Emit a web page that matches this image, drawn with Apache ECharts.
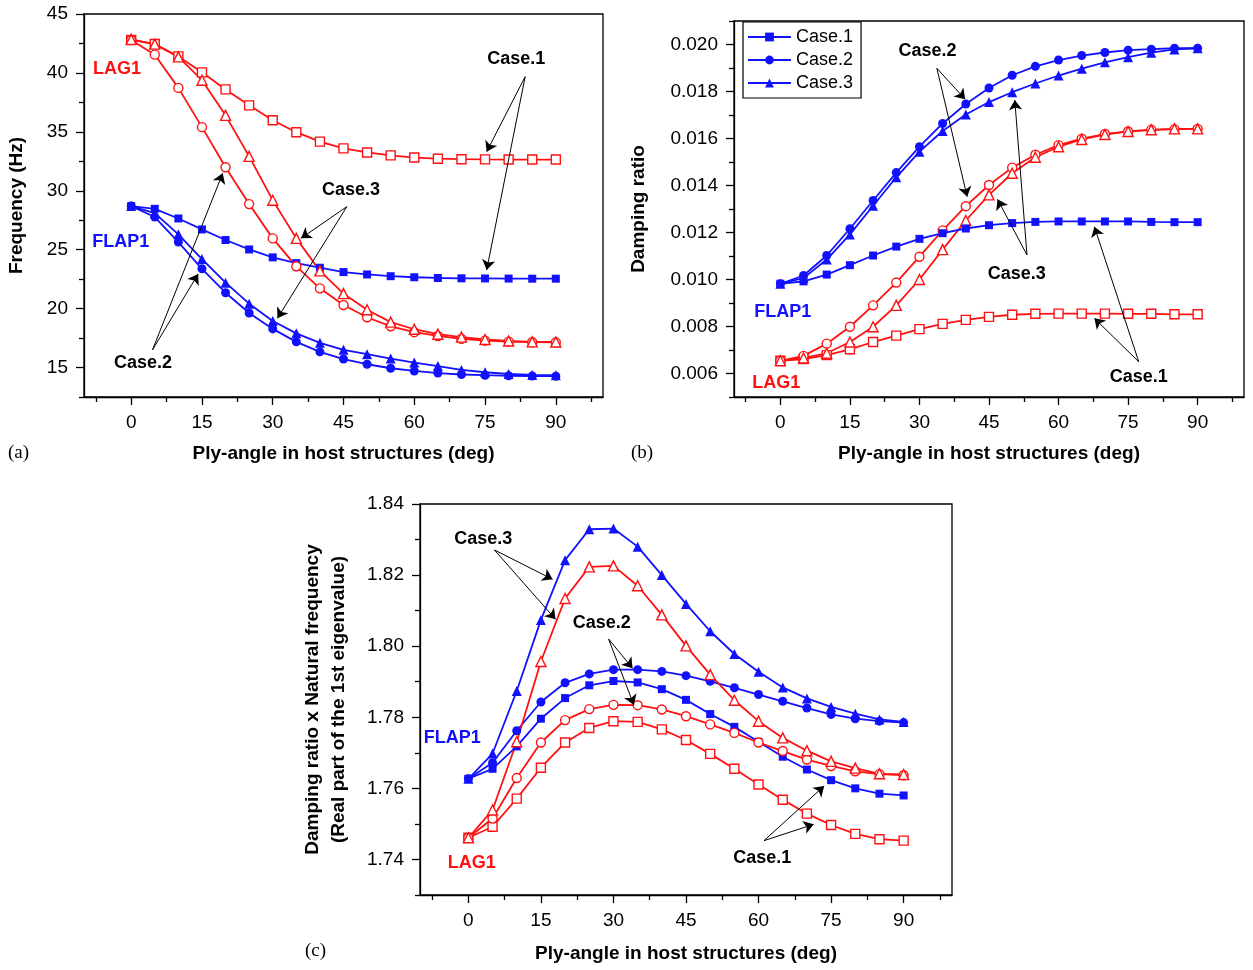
<!DOCTYPE html>
<html><head><meta charset="utf-8">
<script src="https://cdn.jsdelivr.net/npm/echarts@6/dist/echarts.min.js"></script>
<style>html,body{margin:0;padding:0;background:#fff}#c{width:1253px;height:970px}</style>
</head><body><div id="c"></div>
<script>
// ---------------- DATA ----------------
const angles = [0,5,10,15,20,25,30,35,40,45,50,55,60,65,70,75,80,85,90];

// (a) Frequency (Hz)
const freqLag1Case1  = [42.8, 42.45, 41.4, 40.05, 38.6, 37.25, 35.98, 34.97, 34.17, 33.6, 33.25, 33.0, 32.82, 32.72, 32.68, 32.66, 32.65, 32.65, 32.65];
const freqLag1Case2  = [42.8, 41.55, 38.73, 35.4, 32.0, 28.87, 25.96, 23.59, 21.72, 20.31, 19.27, 18.5, 18.0, 17.68, 17.43, 17.28, 17.2, 17.15, 17.14];
const freqLag1Case3  = [42.85, 42.44, 41.36, 39.38, 36.4, 32.92, 29.2, 25.96, 23.2, 21.27, 19.9, 18.85, 18.25, 17.83, 17.58, 17.38, 17.25, 17.18, 17.17];
const freqFlap1Case1 = [28.7, 28.47, 27.65, 26.72, 25.82, 25.02, 24.35, 23.86, 23.47, 23.1, 22.9, 22.75, 22.66, 22.6, 22.57, 22.56, 22.55, 22.54, 22.54];
const freqFlap1Case2 = [28.7, 27.77, 25.65, 23.38, 21.35, 19.63, 18.28, 17.18, 16.33, 15.72, 15.28, 14.94, 14.71, 14.53, 14.41, 14.35, 14.3, 14.28, 14.27];
const freqFlap1Case3 = [28.7, 28.1, 26.3, 24.2, 22.2, 20.42, 18.95, 17.9, 17.1, 16.5, 16.13, 15.76, 15.42, 15.12, 14.8, 14.6, 14.45, 14.37, 14.35];

// (b) Damping ratio
const dampFlap1Case1 = [0.00982, 0.00992, 0.01021, 0.01061, 0.01102, 0.0114, 0.01173, 0.01197, 0.01217, 0.01231, 0.0124, 0.01245, 0.01247, 0.01247, 0.01247, 0.01247, 0.01245, 0.01244, 0.01244];
const dampFlap1Case2 = [0.00982, 0.01017, 0.01102, 0.01216, 0.01336, 0.01455, 0.01565, 0.01664, 0.01747, 0.01815, 0.01869, 0.01907, 0.01934, 0.01953, 0.01966, 0.01976, 0.0198, 0.01984, 0.01984];
const dampFlap1Case3 = [0.00982, 0.01006, 0.01085, 0.01192, 0.01314, 0.01435, 0.01544, 0.01632, 0.01702, 0.01755, 0.01797, 0.01834, 0.01868, 0.01897, 0.01924, 0.01946, 0.01965, 0.01979, 0.01984];
const dampLag1Case1  = [0.00654, 0.00661, 0.00678, 0.00703, 0.00734, 0.00761, 0.00789, 0.00811, 0.00828, 0.00841, 0.0085, 0.00854, 0.00855, 0.00855, 0.00855, 0.00854, 0.00854, 0.00852, 0.00852];
const dampLag1Case2  = [0.00654, 0.00675, 0.00727, 0.00799, 0.0089, 0.00987, 0.01097, 0.01209, 0.01312, 0.01402, 0.01476, 0.01531, 0.01572, 0.01599, 0.01619, 0.0163, 0.01637, 0.0164, 0.01641];
const dampLag1Case3  = [0.00654, 0.00666, 0.00686, 0.00734, 0.00799, 0.0089, 0.01, 0.01127, 0.01251, 0.0136, 0.01452, 0.0152, 0.01565, 0.01596, 0.01617, 0.0163, 0.01637, 0.01641, 0.01641];

// (c) Damping ratio x Natural frequency
const prodFlap1Case1 = [1.7627, 1.7655, 1.7718, 1.7796, 1.7854, 1.789, 1.7902, 1.7898, 1.7879, 1.7849, 1.7809, 1.7773, 1.7731, 1.7689, 1.7653, 1.7623, 1.76, 1.7585, 1.758];
const prodFlap1Case2 = [1.7627, 1.7672, 1.7762, 1.7843, 1.7897, 1.7922, 1.7934, 1.7934, 1.7929, 1.7917, 1.7901, 1.7883, 1.7864, 1.7845, 1.7826, 1.7808, 1.7796, 1.7789, 1.7785];
const prodFlap1Case3 = [1.7627, 1.7698, 1.7874, 1.8074, 1.8242, 1.8329, 1.8331, 1.828, 1.82, 1.8119, 1.8042, 1.7978, 1.7928, 1.7884, 1.7853, 1.7829, 1.781, 1.7794, 1.7787];
const prodLag1Case1  = [1.7461, 1.7492, 1.7571, 1.7658, 1.7729, 1.777, 1.7789, 1.7787, 1.7766, 1.7736, 1.7697, 1.7655, 1.7611, 1.7568, 1.7529, 1.7497, 1.7472, 1.7457, 1.7453];
const prodLag1Case2  = [1.7461, 1.7515, 1.7629, 1.7729, 1.7792, 1.7823, 1.7835, 1.7834, 1.7822, 1.7803, 1.778, 1.7756, 1.7729, 1.7705, 1.7681, 1.7663, 1.7648, 1.764, 1.7637];
const prodLag1Case3  = [1.7461, 1.7539, 1.7731, 1.7957, 1.8134, 1.8223, 1.8226, 1.817, 1.8088, 1.8001, 1.792, 1.7848, 1.7789, 1.7742, 1.7706, 1.7676, 1.7657, 1.7641, 1.7639];

// Tick labels
const xMajorTicks = [0, 15, 30, 45, 60, 75, 90];
const xMinorTicks = [-7.5, 7.5, 22.5, 37.5, 52.5, 67.5, 82.5, 97.5];
const yMajorA = [15, 20, 25, 30, 35, 40, 45];
const yMinorA = [12.5, 17.5, 22.5, 27.5, 32.5, 37.5, 42.5];
const yMajorB = [0.006, 0.008, 0.010, 0.012, 0.014, 0.016, 0.018, 0.020];
const yMinorB = [0.005, 0.007, 0.009, 0.011, 0.013, 0.015, 0.017, 0.019, 0.021];
const yMajorC = [1.74, 1.76, 1.78, 1.80, 1.82, 1.84];
const yMinorC = [1.73, 1.75, 1.77, 1.79, 1.81, 1.83];

const legendNames = ['Case.1', 'Case.2', 'Case.3'];

// Annotations (data coordinates): [text, x, y, colorKey]
const labelsA = [['Case.1', 81.6, 41.18, 'k'], ['Case.3', 46.6, 30.07, 'k'], ['Case.2', 2.5, 15.39, 'k'], ['LAG1', -3.0, 40.33, 'r'], ['FLAP1', -2.2, 25.65, 'b']];
const arrowsA = [[83.5, 39.68, 75.35, 33.32], [83.5, 39.68, 75.35, 23.28], [45.7, 28.65, 36.0, 25.97], [45.7, 28.65, 31.0, 19.18], [4.5, 16.49, 19.4, 31.48], [4.5, 16.49, 14.2, 22.94]];
const labelsB = [['Case.2', 31.75, 0.019736, 'k'], ['Case.3', 51.0, 0.010234, 'k'], ['Case.1', 77.3, 0.005864, 'k'], ['FLAP1', 0.5, 0.00863, 'b'], ['LAG1', -0.9, 0.005609, 'r']];
const arrowsB = [[33.76, 0.018987, 39.86, 0.017668], [33.76, 0.018987, 40.29, 0.013523], [53.19, 0.011043, 50.56, 0.017638], [53.19, 0.011043, 46.83, 0.013413], [77.3, 0.0065, 67.73, 0.012247], [77.3, 0.0065, 67.73, 0.008349]];
const labelsC = [['Case.3', 3.06, 1.83007, 'k'], ['Case.2', 27.6, 1.80644, 'k'], ['Case.1', 60.77, 1.74049, 'k'], ['FLAP1', -3.31, 1.77408, 'b'], ['LAG1', 0.7, 1.73892, 'r']];
const arrowsC = [[5.4, 1.82706, 17.41, 1.81882], [5.4, 1.82706, 18.03, 1.80756], [28.99, 1.80202, 33.95, 1.79378], [28.99, 1.80202, 34.22, 1.78345], [61.12, 1.74528, 73.57, 1.76067], [61.12, 1.74528, 71.4, 1.74989]];

// ---------------- STYLE / LAYOUT ----------------
const FONT = '"Liberation Sans", Arial, Helvetica, sans-serif';
const RED = '#ff1111';
const BLUE = '#1111ff';
const COLORS = {k: '#000', r: RED, b: BLUE};
const grids = [
  {left: 84, top: 14, width: 519, height: 383},
  {left: 734, top: 21, width: 510, height: 376},
  {left: 420, top: 504, width: 532, height: 391}
];
const yCfg = [
  {min: 12.5, max: 45, major: yMajorA, minor: yMinorA, fmt: v => String(v), name: 'Frequency (Hz)', gap: 54},
  {min: 0.005, max: 0.021, major: yMajorB, minor: yMinorB, fmt: v => v.toFixed(3), name: 'Damping ratio', gap: 82},
  {min: 1.73, max: 1.84, major: yMajorC, minor: yMinorC, fmt: v => v.toFixed(2), name: 'Damping ratio x Natural frequency\n(Real part of the 1st eigenvalue)', gap: 68}
];
const xGap = [47, 47, 49];

const axisLineStyle = {color: '#000', width: 1.3};
const xAxes = [], yAxes = [];
for (let g = 0; g < 3; g++) {
  xAxes.push({
    type: 'value', gridIndex: g, min: -10, max: 100, position: 'bottom',
    axisLine: {show: true, onZero: false, lineStyle: axisLineStyle},
    axisTick: {show: true, inside: false, length: 8, customValues: xMajorTicks, lineStyle: axisLineStyle},
    axisLabel: {show: true, customValues: xMajorTicks, margin: 16, color: '#000', fontSize: 19, fontFamily: FONT, formatter: v => String(v)},
    splitLine: {show: false},
    name: 'Ply-angle in host structures (deg)', nameLocation: 'middle', nameGap: xGap[g], nameMoveOverlap: false,
    nameTextStyle: {color: '#000', fontSize: 19, fontWeight: 'bold', fontFamily: FONT}
  });
  const c = yCfg[g];
  yAxes.push({
    type: 'value', gridIndex: g, min: c.min, max: c.max, position: 'left',
    axisLine: {show: true, onZero: false, lineStyle: axisLineStyle},
    axisTick: {show: true, inside: false, length: 8, customValues: c.major, lineStyle: axisLineStyle},
    axisLabel: {show: true, customValues: c.major, margin: 16, color: '#000', fontSize: 19, fontFamily: FONT, formatter: c.fmt},
    splitLine: {show: false},
    name: c.name, nameLocation: 'middle', nameGap: c.gap, nameMoveOverlap: false,
    nameTextStyle: {color: '#000', fontSize: 19, fontWeight: 'bold', fontFamily: FONT, lineHeight: 26}
  });
}
for (let g = 0; g < 3; g++) {
  xAxes.push({
    type: 'value', gridIndex: g, min: -10, max: 100, position: 'bottom',
    axisLine: {show: false, onZero: false},
    axisTick: {show: true, inside: false, length: 5, customValues: xMinorTicks, lineStyle: axisLineStyle},
    axisLabel: {show: false}, splitLine: {show: false}
  });
  const c = yCfg[g];
  yAxes.push({
    type: 'value', gridIndex: g, min: c.min, max: c.max, position: 'left',
    axisLine: {show: false, onZero: false},
    axisTick: {show: true, inside: false, length: 5, customValues: c.minor, lineStyle: axisLineStyle},
    axisLabel: {show: false}, splitLine: {show: false}
  });
}

function line(g, name, vals, color, symbol, size, filled, z) {
  return {
    type: 'line', name: name, xAxisIndex: g, yAxisIndex: g,
    data: angles.map((a, i) => [a, vals[i]]),
    symbol: symbol, symbolSize: size, showSymbol: true, showAllSymbol: true,
    lineStyle: {color: color, width: 1.8},
    itemStyle: {color: filled ? color : '#fff', borderColor: color, borderWidth: filled ? 0 : 1.4},
    emphasis: {disabled: true}, silent: true, animation: false, z: z || 2
  };
}
function annot(labels, arrows) {
  return {
    markLine: {
      silent: true, animation: false, symbol: ['none', 'arrow'], symbolSize: 10,
      label: {show: false}, emphasis: {disabled: true},
      itemStyle: {color: '#000'},
      lineStyle: {color: '#000', width: 1, type: 'solid'},
      data: arrows.map(a => [{coord: [a[0], a[1]]}, {coord: [a[2], a[3]]}])
    },
    markPoint: {
      silent: true, animation: false, symbol: 'rect', symbolSize: 1,
      itemStyle: {color: 'rgba(0,0,0,0)'},
      data: labels.map(l => ({
        coord: [l[1], l[2]], value: l[0],
        label: {show: true, position: 'inside', formatter: l[0], color: COLORS[l[3]], fontSize: 18, fontWeight: 'bold', fontFamily: FONT}
      }))
    }
  };
}

const sA = line(0, 'a LAG1 Case.1', freqLag1Case1, RED, 'rect', 9, false);
Object.assign(sA, annot(labelsA, arrowsA));
const sB = line(1, 'b LAG1 Case.1', dampLag1Case1, RED, 'rect', 9, false);
Object.assign(sB, annot(labelsB, arrowsB));
const sC = line(2, 'c LAG1 Case.1', prodLag1Case1, RED, 'rect', 9, false);
Object.assign(sC, annot(labelsC, arrowsC));

const series = [
  // panel (b) FLAP1 first: these feed the legend
  line(1, 'Case.1', dampFlap1Case1, BLUE, 'rect', 8, true, 3),
  line(1, 'Case.2', dampFlap1Case2, BLUE, 'circle', 9, true, 3),
  line(1, 'Case.3', dampFlap1Case3, BLUE, 'triangle', 10, true, 3),
  sB,
  line(1, 'b LAG1 Case.2', dampLag1Case2, RED, 'circle', 9, false),
  line(1, 'b LAG1 Case.3', dampLag1Case3, RED, 'triangle', 10, false),
  // panel (a)
  line(0, 'a FLAP1 Case.1', freqFlap1Case1, BLUE, 'rect', 8, true),
  line(0, 'a FLAP1 Case.2', freqFlap1Case2, BLUE, 'circle', 9, true),
  line(0, 'a FLAP1 Case.3', freqFlap1Case3, BLUE, 'triangle', 10, true),
  sA,
  line(0, 'a LAG1 Case.2', freqLag1Case2, RED, 'circle', 9, false),
  line(0, 'a LAG1 Case.3', freqLag1Case3, RED, 'triangle', 10, false),
  // panel (c)
  line(2, 'c FLAP1 Case.1', prodFlap1Case1, BLUE, 'rect', 8, true),
  line(2, 'c FLAP1 Case.2', prodFlap1Case2, BLUE, 'circle', 9, true),
  line(2, 'c FLAP1 Case.3', prodFlap1Case3, BLUE, 'triangle', 10, true),
  sC,
  line(2, 'c LAG1 Case.2', prodLag1Case2, RED, 'circle', 9, false),
  line(2, 'c LAG1 Case.3', prodLag1Case3, RED, 'triangle', 10, false)
];

const chart = echarts.init(document.getElementById('c'), null, {renderer: 'canvas', width: 1253, height: 970});
chart.setOption({
  animation: false,
  backgroundColor: '#fff',
  textStyle: {fontFamily: FONT},
  grid: grids.map(g => Object.assign({show: true, borderColor: '#000', borderWidth: 1.3, backgroundColor: 'transparent', containLabel: false, outerBoundsMode: 'none'}, g)),
  xAxis: xAxes,
  yAxis: yAxes,
  legend: {
    show: true, orient: 'vertical', left: 743, top: 22, data: legendNames,
    itemWidth: 43, itemHeight: 11, itemGap: 5, padding: [6, 8, 6, 4],
    borderColor: '#000', borderWidth: 1.2, backgroundColor: '#fff',
    selectedMode: false,
    textStyle: {fontSize: 18, color: '#000', fontFamily: FONT, lineHeight: 18}
  },
  tooltip: {show: false},
  series: series,
  graphic: [
    {type: 'text', x: 8, y: 444, silent: true, style: {text: '(a)', fontFamily: '"Liberation Serif", "Times New Roman", serif', fontSize: 19, fill: '#000'}},
    {type: 'text', x: 631, y: 444, silent: true, style: {text: '(b)', fontFamily: '"Liberation Serif", "Times New Roman", serif', fontSize: 19, fill: '#000'}},
    {type: 'text', x: 305, y: 942, silent: true, style: {text: '(c)', fontFamily: '"Liberation Serif", "Times New Roman", serif', fontSize: 19, fill: '#000'}}
  ]
});
</script></body></html>
